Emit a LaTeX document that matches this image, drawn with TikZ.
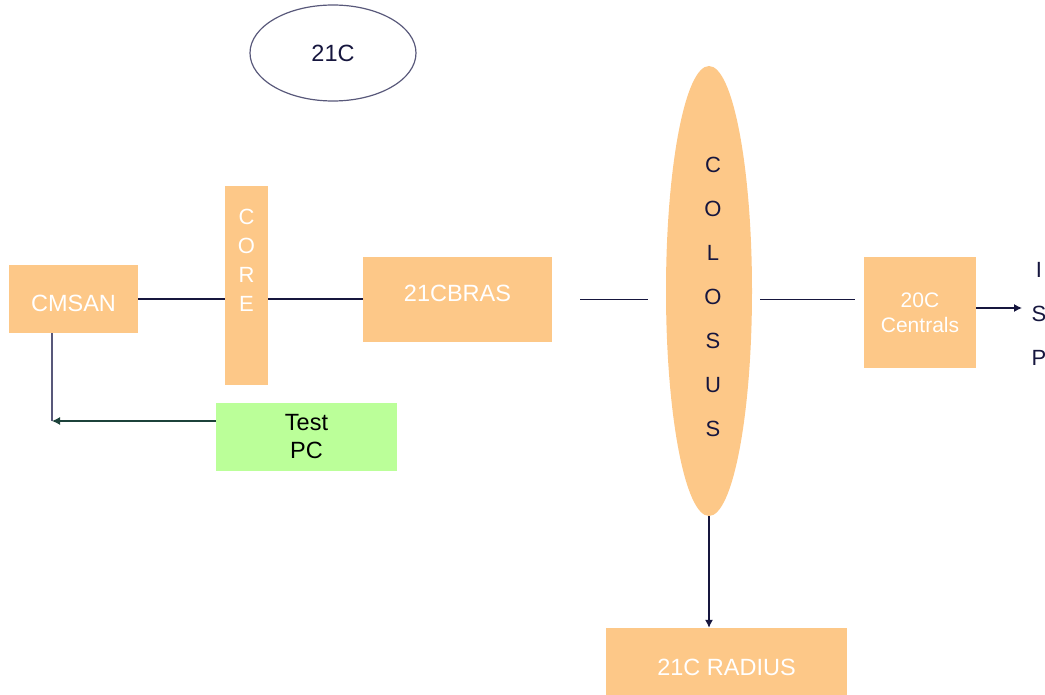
\documentclass[tikz,border=0pt]{standalone}
\usepackage{fontspec}
\setmainfont{Liberation Sans}
\usetikzlibrary{shapes.geometric,arrows.meta}
\definecolor{boxorange}{RGB}{253,200,136}
\definecolor{pcgreen}{RGB}{187,255,153}
\definecolor{linenavy}{RGB}{22,22,62}
\definecolor{rimgray}{RGB}{88,88,122}
\definecolor{arrowgreen}{RGB}{28,66,58}

\begin{document}
\begin{tikzpicture}[x=1pt, y=-1pt, every node/.style={font=\fontsize{23.5}{28}\selectfont}]
        \pgfdeclarelayer{edgelayer}
        \pgfsetlayers{edgelayer,main}
        \tikzstyle{box}=[fill=boxorange, draw=none, inner sep=0pt, text=white, align=center]
        \tikzstyle{oval}=[ellipse, draw=rimgray, line width=1.2pt, inner sep=0pt, text=linenavy]
        \tikzstyle{letters}=[inner sep=0pt, align=center, font=\fontsize{22}{44}\selectfont]
        \tikzstyle{wire}=[draw=linenavy, line width=1.2pt]
        \tikzstyle{arrow}=[-{Latex[length=8pt,width=8pt]}, line width=1.2pt, draw=linenavy]
        \useasboundingbox (0,0) rectangle (1045,695);

        \node [style=oval, minimum width=166pt, minimum height=96pt] (c21) at (333,53) {21C};
        \node [style=box, minimum width=129pt, minimum height=68pt, text height=24.5pt] (cmsan) at (73.5,299) {CMSAN};
        \node [style=box, minimum width=43pt, minimum height=199pt] (core) at (246.5,285.5) {};
        \node [style=letters, text=white, font=\fontsize{22}{29}\selectfont] (coretext) at (246.5,260) {C\\O\\R\\E};
        \node [style=box, minimum width=189pt, minimum height=85pt, text depth=12pt] (bras) at (457.5,299.5) {21CBRAS};
        \node [style=box, ellipse, minimum width=86pt, minimum height=450pt] (colosus) at (709,291) {};
        \node [style=letters, text=linenavy] (colosustext) at (713,297) {C\\O\\L\\O\\S\\U\\S};
        \node [style=box, minimum width=112pt, minimum height=111pt, font=\fontsize{21}{25}\selectfont] (central) at (920,312.5) {20C\\Centrals};
        \node [style=box, minimum width=241pt, minimum height=84pt, text depth=6pt] (radius) at (726.5,670) {21C RADIUS};
        \node [style=box, fill=pcgreen, text=black, minimum width=181pt, minimum height=68pt] (testpc) at (306.5,437) {Test\\PC};
        \node [style=letters, text=linenavy] (isp) at (1039,313.5) {I\\S\\P};

        \begin{pgfonlayer}{edgelayer}
            \coordinate (corner) at (52,421);
            \coordinate (ispin) at (1022,308);
            \draw [style=wire] (cmsan.east) -- (cmsan.east -| bras.west);
            \draw [style=wire, shorten <=28pt, shorten >=18pt] (bras.east) -- (bras.east -| colosus.west);
            \draw [style=wire, shorten <=8pt, shorten >=9pt] (colosus.east |- bras.east) -- (bras.east -| central.west);
            \draw [style=arrow] (central.east |- ispin) -- (ispin);
            \draw [style=arrow] (colosus.south) -- (colosus.south |- radius.north);
            \draw [style=wire, draw=rimgray] (cmsan.south -| corner) -- (corner);
            \draw [style=arrow, draw=arrowgreen, fill=arrowgreen] (testpc.west |- corner) -- (corner);
        \end{pgfonlayer}
    \end{tikzpicture}
\end{document}
